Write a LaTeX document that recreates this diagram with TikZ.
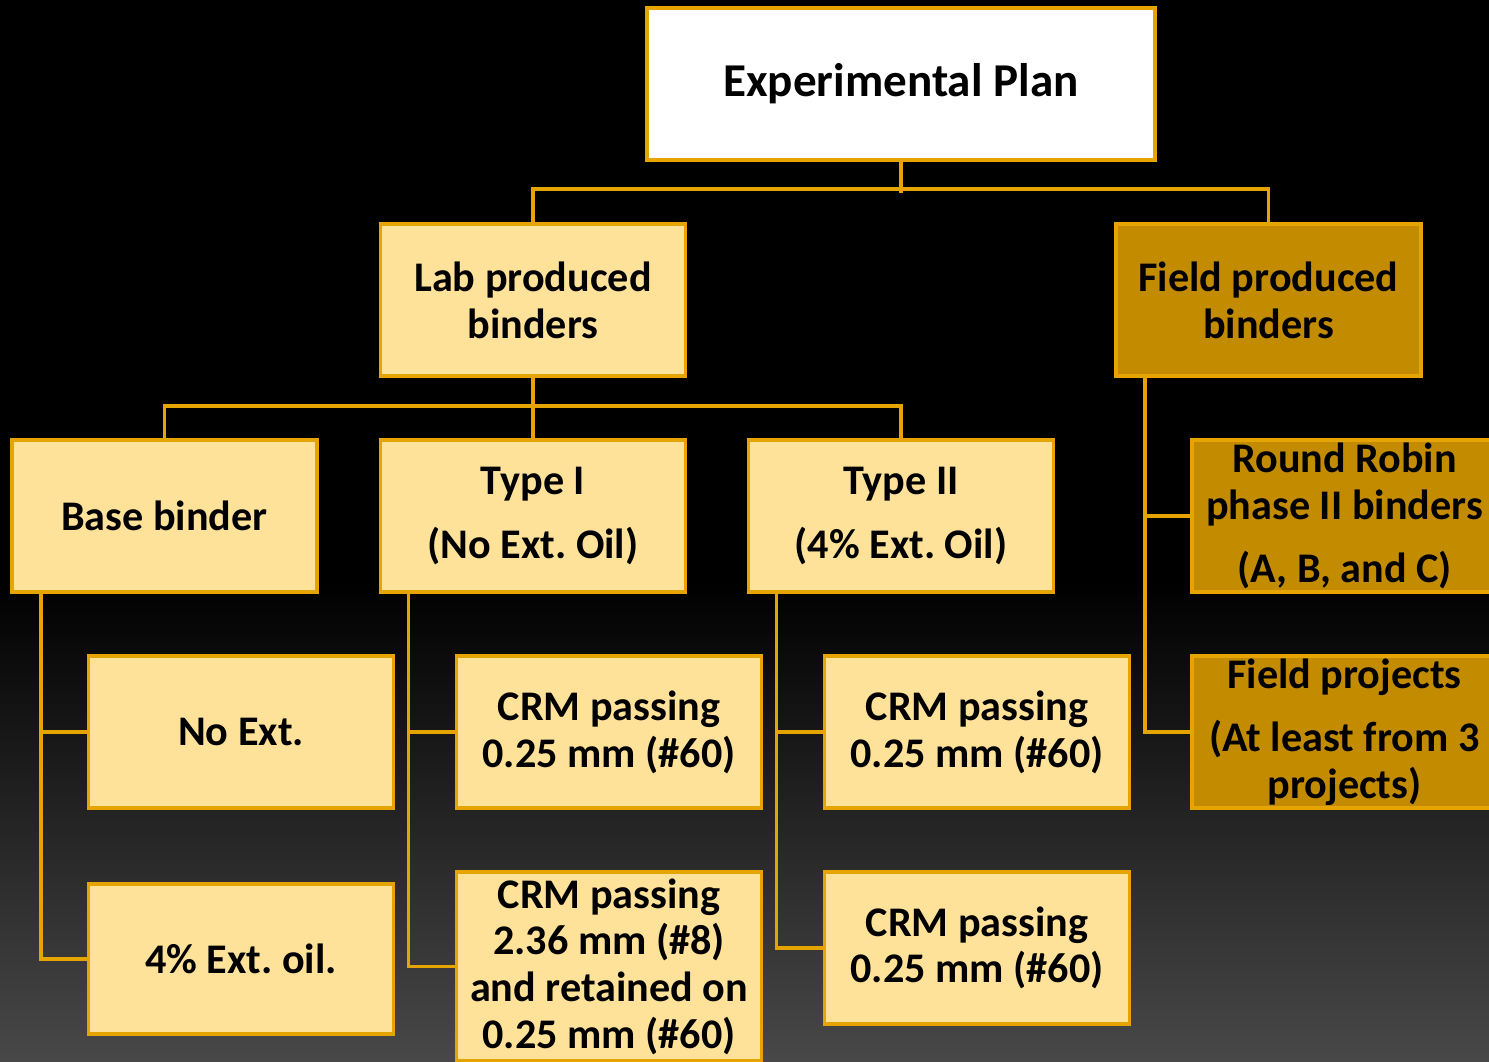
\documentclass[tikz,border=0pt]{standalone}
\usepackage{fontspec}
\setmainfont{Carlito}
\frenchspacing
\definecolor{planedge}{RGB}{230,164,0}
\definecolor{lightgold}{RGB}{255,226,154}
\definecolor{darkgold}{RGB}{195,140,0}
\definecolor{bottomgray}{RGB}{72,72,72}
\tikzset{
  planbox/.style={draw=planedge, line width=1.1pt, fill=lightgold, align=center,
    minimum width=3.05cm, minimum height=1.52cm, inner sep=0pt,
    font=\fontsize{12}{13.3}\selectfont\bfseries},
  fieldbox/.style={planbox, fill=darkgold},
  link/.style={draw=planedge, line width=1.05pt}
}
\begin{document}
\begin{tikzpicture}
                % 0) Background: black on top, fading to grey at the bottom
                \useasboundingbox (0,0) rectangle (14.89,-10.61);
                \fill[black] (0,0) rectangle (14.89,-5.8);
                \shade[top color=black, bottom color=bottomgray] (0,-5.8) rectangle (14.89,-10.61);
                % 1) Top of the plan
                \node[planbox, fill=white, minimum width=5.08cm,
                      font=\fontsize{13.4}{15}\selectfont\bfseries] (plan) at (9.01,-0.84) {Experimental Plan};
                % 2) Second level
                \node[planbox] (lab) at (5.33,-3.00) {Lab produced\\binders};
                \node[fieldbox] (field) at (12.685,-3.00) {Field produced\\binders};
                % 3) Lab binders
                \node[planbox] (base) at (1.645,-5.16) {Base binder};
                \node[planbox] (typeI) at (5.33,-5.16) {Type I\\[4.8pt](No Ext. Oil)};
                \node[planbox] (typeII) at (9.01,-5.16) {Type II\\[4.8pt](4\% Ext. Oil)};
                % 4) Field binders
                \node[fieldbox] (robin) at (13.445,-5.16) {Round Robin\\phase II binders\\[4.8pt](A, B, and C)};
                \node[fieldbox] (fproj) at (13.445,-7.32) {Field projects\\[4.8pt](At least from 3\\projects)};
                % 5) Leaves
                \node[planbox] (noext) at (2.41,-7.32) {No Ext.};
                \node[planbox, minimum height=1.50cm] (extoil) at (2.41,-9.59) {4\% Ext. oil.};
                \node[planbox] (crmA) at (6.09,-7.32) {CRM passing\\0.25 mm (\#60)};
                \node[planbox, minimum height=1.89cm] (crmB) at (6.09,-9.665)
                     {CRM passing\\2.36 mm (\#8)\\and retained on\\0.25 mm (\#60)};
                \node[planbox] (crmC) at (9.77,-7.32) {CRM passing\\0.25 mm (\#60)};
                \node[planbox] (crmD) at (9.77,-9.48) {CRM passing\\0.25 mm (\#60)};
                % 6) Connectors
                \draw[link] (plan.south) -- ++(0,-0.31);
                \draw[link] (lab.north) -- ++(0,0.33) -| (field.north);
                \draw[link] (lab.south) -- (typeI.north);
                \draw[link] (base.north) -- ++(0,0.32) -| (typeII.north);
                \draw[link] ([xshift=0.31cm]base.south west) |- (noext.west);
                \draw[link] ([xshift=0.31cm]base.south west) |- (extoil.west);
                \draw[link] ([xshift=0.30cm]typeI.south west) |- (crmA.west);
                \draw[link] ([xshift=0.30cm]typeI.south west) |- (crmB.west);
                \draw[link] ([xshift=0.30cm]typeII.south west) |- (crmC.west);
                \draw[link] ([xshift=0.30cm]typeII.south west) |- (crmD.west);
                \draw[link] ([xshift=0.31cm]field.south west) |- (robin.west);
                \draw[link] ([xshift=0.31cm]field.south west) |- (fproj.west);
            \end{tikzpicture}
\end{document}
